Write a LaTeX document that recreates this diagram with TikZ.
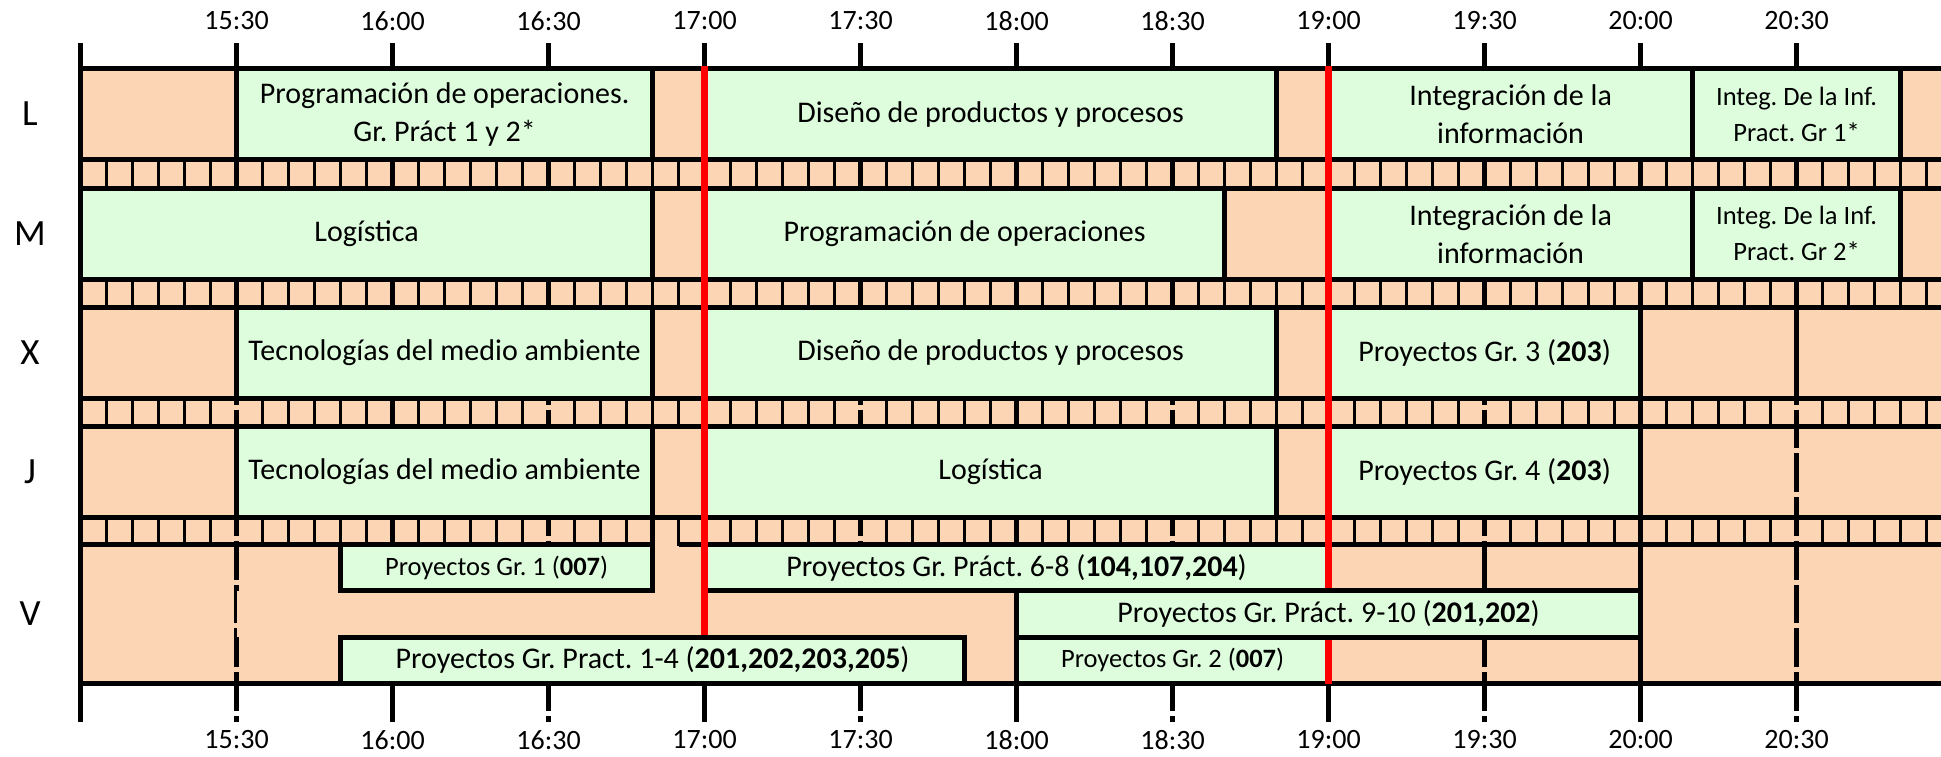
\documentclass[tikz,border=0pt]{standalone}
\usepackage{fontspec}
\setmainfont{Carlito}
\definecolor{slotgreen}{RGB}{221,253,221}
\definecolor{freeorange}{RGB}{252,213,180}
\frenchspacing
\begin{document}
\begin{tikzpicture} [x=5.2pt,y=-1pt,line width=5pt,
		slot/.style={draw=black,fill=slotgreen},
		lbl/.style={font=\fontsize{30}{38}\selectfont,align=center,inner sep=0pt},
		lblsmall/.style={font=\fontsize{26.5}{36}\selectfont,align=center,inner sep=0pt},
		ticklbl/.style={font=\fontsize{28}{30}\selectfont,inner sep=0pt},
		daylbl/.style={font=\fontsize{37}{40}\selectfont,inner sep=0pt},
		halfline/.style={dash pattern=on 38.7pt off 5pt,dash phase=8.4pt},
		divline/.style={line width=3.5pt},
		nowline/.style={red,line width=7.5pt}]
		\useasboundingbox (-15.5,0) rectangle (357.77,756);
		\clip (-15.5,0) rectangle (357.77,756);
		\fill [freeorange] (0,68.5) rectangle (360,683.5);
		\foreach \h in {60,120,...,300}
			\draw (\h,43) -- (\h,722);
		\foreach \h in {30,90,...,330} {
			\draw (\h,43) -- (\h,68.5);
			\draw [halfline] (\h,68.5) -- (\h,722);
		}
		\foreach \r in {68.5,188,307}
			\fill [freeorange] (0,\r) rectangle (360,\r+91.5);
		\fill [freeorange] (0,426) rectangle (300,517.5);
		\fill [freeorange] (30,590.8) rectangle (180,637.2);
		\foreach \s in {159.5,279.5,398.5,517.5}
			\foreach \h in {0,30,...,330}
				\foreach \m in {5,10,15,20,25}
					\draw [divline] (\h+\m,\s) -- (\h+\m,\s+28);
		\draw (110,517.5) -- (110,544.5);
		\foreach \r in {68.5,159.5,188,279.5,307,398.5,426,517.5,683.5}
			\draw (0,\r) -- (360,\r);
		\draw (0,544.5) -- (110,544.5) (115,544.5) -- (360,544.5);
		\draw (0,43) -- (0,722);

		\draw [slot] (30,68.5) rectangle node [lbl] (lProg) {Programación de operaciones.\\Gr. Práct 1 y 2*} (110,159.5);
		\draw [slot] (120,68.5) rectangle node [lbl] (lDis) {Diseño de productos y procesos} (230,159.5);
		\draw [slot] (240,68.5) rectangle node [lbl] (lInt) {Integración de la\\información} (310,159.5);
		\draw [slot] (310,68.5) rectangle node [lblsmall] (lPra) {Integ. De la Inf.\\Pract. Gr 1*} (350,159.5);

		\draw [slot] (0,188) rectangle node [lbl] (mLog) {Logística} (110,279.5);
		\draw [slot] (120,188) rectangle node [lbl] (mProg) {Programación de operaciones} (220,279.5);
		\draw [slot] (240,188) rectangle node [lbl] (mInt) {Integración de la\\información} (310,279.5);
		\draw [slot] (310,188) rectangle node [lblsmall] (mPra) {Integ. De la Inf.\\Pract. Gr 2*} (350,279.5);

		\draw [slot] (30,307) rectangle node [lbl] (xTec) {Tecnologías del medio ambiente} (110,398.5);
		\draw [slot] (120,307) rectangle node [lbl] (xDis) {Diseño de productos y procesos} (230,398.5);
		\draw [slot] (240,307) rectangle node [lbl] (xPro) {Proyectos Gr. 3 (\textbf{203})} (300,398.5);
		\draw (330,307) -- (330,398.5);

		\draw [slot] (30,426) rectangle node [lbl] (jTec) {Tecnologías del medio ambiente} (110,517.5);
		\draw [slot] (120,426) rectangle node [lbl] (jLog) {Logística} (230,517.5);
		\draw [slot] (240,426) rectangle node [lbl] (jPro) {Proyectos Gr. 4 (\textbf{203})} (300,517.5);

		\draw [slot] (50,544.5) rectangle node [lblsmall] (vGr1) {Proyectos Gr. 1 (\textbf{007})} (110,590.8);
		\draw [slot] (120,544.5) rectangle node [lbl] (vP68) {Proyectos Gr. Práct. 6-8 (\textbf{104,107,204})} (240,590.8);
		\draw (270,544.5) -- (270,590.8);
		\draw [slot] (180,590.8) rectangle node [lbl] (vP910) {Proyectos Gr. Práct. 9-10 (\textbf{201,202})} (300,637.2);
		\draw [slot] (50,637.2) rectangle node [lbl] (vP14) {Proyectos Gr. Pract. 1-4 (\textbf{201,202,203,205})} (170,683.5);
		\draw [slot] (180,637.2) rectangle node [lblsmall] (vGr2) {Proyectos Gr. 2 (\textbf{007})} (240,683.5);

		\draw [nowline] (120,66) -- (120,635);
		\draw [nowline] (240,66) -- (240,588.3) (240,639.7) -- (240,683.5);

		\foreach \h/\lab in {30/15:30,60/16:00,90/16:30,120/17:00,150/17:30,180/18:00,210/18:30,240/19:00,270/19:30,300/20:00,330/20:30} {
			\node [ticklbl] (top\h) at (\h,21) {\lab};
			\node [ticklbl] (bot\h) at (\h,740) {\lab};
		}
		\foreach \d/\y in {L/114,M/233.75,X/352.75,J/471.75,V/614}
			\node [daylbl] (day\d) at (-9.73,\y) {\d};
	\end{tikzpicture}
\end{document}
